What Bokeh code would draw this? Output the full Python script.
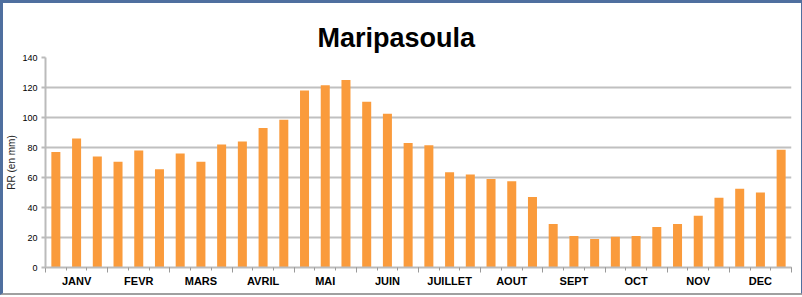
from bokeh.plotting import figure
from bokeh.models import Range1d, LinearAxis, FixedTicker
from bokeh.embed import file_html
from bokeh.resources import INLINE

title_text = "Maripasoula"
y_label = "RR (en mm)"
months = ["JANV", "FEVR", "MARS", "AVRIL", "MAI", "JUIN",
          "JUILLET", "AOUT", "SEPT", "OCT", "NOV", "DEC"]
# three decades (10-day periods) per month
rainfall = [77, 86, 74,
            70.5, 78, 65.5,
            76, 70.5, 82,
            84, 93, 98.5,
            118, 121.5, 125,
            110.5, 102.5, 83,
            81.5, 63.5, 62,
            59, 57.5, 47,
            29, 21, 19,
            20.5, 21, 27,
            29, 34.5, 46.5,
            52.5, 50, 78.5]
y_ticks = [0, 20, 40, 60, 80, 100, 120, 140]

n = len(rainfall)
xs = [i + 0.5 for i in range(n)]

p = figure(frame_width=746, frame_height=210,
           min_border_left=40, min_border_right=10,
           min_border_top=54, min_border_bottom=26,
           x_range=Range1d(0, n), y_range=Range1d(0, 140),
           x_axis_type=None, output_backend="svg", toolbar_location=None,
           background_fill_color="white", border_fill_color="white")
p.outline_line_color = None
p.styles = {"border-left": "3px solid #4F6F9F", "border-top": "3px solid #4F6F9F",
            "border-right": "3px solid #4F6F9F", "border-bottom": "2px solid #A0A0A0"}

p.title.text = title_text
p.title.text_font = "Liberation Sans"
p.title.text_font_style = "bold"
p.title.text_font_size = "27px"
p.title.align = "left"
p.title.offset = 272
p.title.text_color = "black"

p.vbar(x=xs, top=rainfall, width=0.435, fill_color="#FA9B3C", line_color=None)

# y axis
ya = p.yaxis[0]
ya.ticker = FixedTicker(ticks=y_ticks)
ya.major_tick_out = 4
ya.major_tick_in = 0
ya.minor_tick_out = 0
ya.minor_tick_in = 0
ya.axis_line_color = "#BBBBBB"
ya.axis_line_width = 2
ya.major_tick_line_color = "#BBBBBB"
ya.major_tick_line_width = 2
ya.major_label_text_font = "Liberation Sans"
ya.major_label_text_font_size = "9px"
ya.major_label_text_color = "black"
ya.major_label_standoff = 4
ya.axis_label = y_label
ya.axis_label_text_font = "Liberation Sans"
ya.axis_label_text_font_size = "10px"
ya.axis_label_text_font_style = "normal"
ya.axis_label_text_color = "#222222"
ya.axis_label_standoff = 2

p.ygrid.ticker = FixedTicker(ticks=y_ticks)
p.ygrid.grid_line_color = "#C0C0C0"
p.ygrid.grid_line_width = 2
p.xgrid.visible = False

# x axis: tick marks at month and decade boundaries
bounds = [3 * k for k in range(13)]
xa1 = LinearAxis(ticker=FixedTicker(ticks=bounds, minor_ticks=list(range(n + 1))),
                 major_tick_out=5, major_tick_in=0, minor_tick_out=3, minor_tick_in=0,
                 axis_line_color="#BBBBBB", axis_line_width=2,
                 major_tick_line_color="#999999", minor_tick_line_color="#999999",
                 major_label_overrides={b: "" for b in bounds},
                 major_label_standoff=0)
p.add_layout(xa1, "below")

centers = [3 * k + 1.5 for k in range(12)]
xa2 = LinearAxis(ticker=FixedTicker(ticks=centers),
                 major_label_overrides={c: m for c, m in zip(centers, months)},
                 major_tick_out=0, major_tick_in=0, minor_tick_out=0, minor_tick_in=0,
                 axis_line_color=None, major_tick_line_color=None,
                 major_label_text_font="Liberation Sans",
                 major_label_text_font_style="bold",
                 major_label_text_font_size="11px",
                 major_label_text_color="black",
                 major_label_standoff=2)
p.add_layout(xa2, "below")

open("out.html", "w").write(file_html(p, INLINE))
